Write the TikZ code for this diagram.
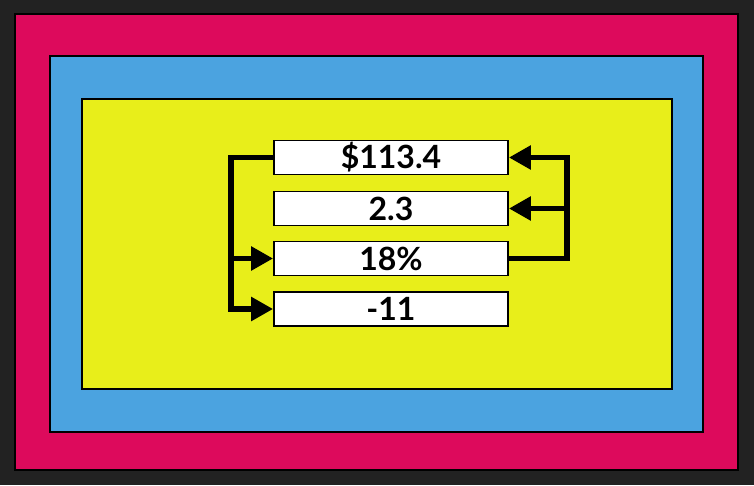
\documentclass[tikz,border=0pt]{standalone}
\usepackage{fontspec}
\setmainfont{Lato}
\usetikzlibrary{arrows.meta}
\definecolor{bgdark}{HTML}{222222}
\definecolor{pinkc}{HTML}{DD0A5C}
\definecolor{bluec}{HTML}{4BA3E0}
\definecolor{yellowc}{HTML}{E8EE1A}
\tikzset{
  frame/.style={draw=black,line width=2pt},
  valbox/.style={draw=black,line width=1.8pt,fill=white,minimum width=234pt,minimum height=34pt,inner sep=0pt,font=\fontsize{32}{34}\selectfont\bfseries},
  conn/.style={line width=5.5pt,draw=black},
  arr/.style={conn,-{Triangle[length=22pt,width=23pt]}},
}
\begin{document}
\begin{tikzpicture}[x=1pt,y=-1pt]
\fill[bgdark] (0,0) rectangle (754,485);
\useasboundingbox (0,0) rectangle (754,485);
\filldraw[frame,fill=pinkc] (15,14) rectangle (738,470);
\filldraw[frame,fill=bluec] (50,56) rectangle (703,432);
\filldraw[frame,fill=yellowc] (82,99) rectangle (672,389);
\node[valbox] (a) at (391,157.5) {\$113.4};
\node[valbox] (b) at (391,208.5) {2.3};
\node[valbox] (c) at (391,258.5) {18\%};
\node[valbox] (d) at (391,309) {-11};
\coordinate (lx) at (231,0);
\coordinate (rx) at (567,0);
\draw[arr] (a.west) -- (a.west -| lx) -- (d.west -| lx) -- (d.west);
\draw[arr] (c.west -| lx) -- (c.west);
\draw[arr] (c.east) -- (c.east -| rx) -- (a.east -| rx) -- (a.east);
\draw[arr] (b.east -| rx) -- (b.east);
\end{tikzpicture}
\end{document}
